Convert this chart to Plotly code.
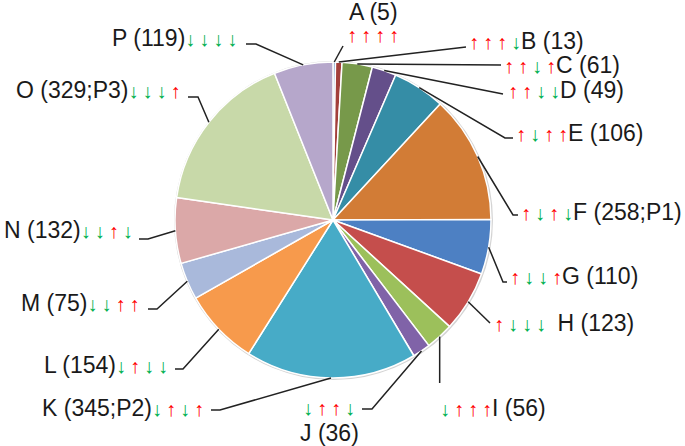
import math
import plotly.graph_objects as go

W, H = 685, 446

names = ["A", "B", "C", "D", "E", "F", "G", "H", "I", "J", "K", "L", "M", "N", "O", "P"]
counts = [5, 13, 61, 49, 106, 258, 110, 123, 56, 36, 345, 154, 75, 132, 329, 119]
ranks = ["", "", "", "", "", "P1", "", "", "", "", "P2", "", "", "", "P3", ""]
trends = ["UUUU", "UUUD", "UUDU", "UUDD", "UDUU", "UDUD", "UDDU", "UDDD",
          "DUUU", "DUUD", "DUDU", "DUDD", "DDUU", "DDUD", "DDDU", "DDDD"]
colors = ["#4F81BD", "#A33F3B", "#77994A", "#644F8A", "#358DA6", "#D27C36",
          "#4D80C3", "#C54E4C", "#9CC05B", "#8063A8", "#47ABC7", "#F79A4C",
          "#A9B9DB", "#DBA8A8", "#C8D9A9", "#B6A7CB"]

# pie geometry (pixels)
cx, cy, r = 333, 220, 158


def px(x):
    return x / W


def py(y):
    return 1 - y / H


def arrows(code):
    parts = []
    for c in code:
        if c == "U":
            parts.append('<span style="color:#FF0000">↑</span>')
        else:
            parts.append('<span style="color:#00B050">↓</span>')
    return '<span style="font-size:20px">' + "\u2009".join(parts) + "</span>"


def label(i):
    if ranks[i]:
        return f"{names[i]} ({counts[i]};{ranks[i]})"
    return f"{names[i]} ({counts[i]})"


# label placement: (x, y, xanchor, arrows first?), leader elbow points
place = {
    0: (373, 12, "center", None), 1: (467, 41, "left", True), 2: (502, 65, "left", True),
    3: (506, 90, "left", True), 4: (514, 133, "left", True), 5: (519, 212, "left", True),
    6: (508, 276, "left", True), 7: (492, 323, "left", True), 8: (438, 408, "left", True),
    9: (329, 433, "center", None), 10: (206, 408, "right", False), 11: (170, 365, "right", False),
    12: (142, 303, "right", False), 13: (135, 230, "right", False), 14: (183, 90, "right", False),
    15: (239, 38, "right", False),
}
elbows = {
    0: [(343, 46)], 1: [(466, 47)], 2: [(501, 65)], 3: [(503, 94)],
    4: [(505, 138), (513, 138)], 5: [(513, 215), (518, 215)], 6: [(503, 282), (507, 282)],
    7: [(490, 323)], 8: [(None, 383)], 9: [(372, 409), (362, 409)],
    10: [(220, 410), (211, 410)], 11: [(183, 369), (175, 369)], 12: [(157, 309), (148, 309)],
    13: [(148, 239), (139, 239)], 14: [(198, 97), (188, 97)], 15: [(256, 44), (246, 44)],
}

fig = go.Figure()
# soft grey rim behind the pie (shadow)
fig.add_trace(go.Pie(
    values=[1], sort=False, textinfo="none", hoverinfo="skip", showlegend=False,
    marker=dict(colors=["#D4D4D4"], line=dict(width=0)),
    domain=dict(x=[px(cx - r - 1), px(cx + r + 2)], y=[py(cy + r + 2), py(cy - r - 1)]),
))
fig.add_trace(go.Pie(
    values=counts, labels=names, sort=False, direction="clockwise", rotation=0,
    marker=dict(colors=colors, line=dict(color="white", width=1.5)),
    textinfo="none", hoverinfo="label+value", showlegend=False,
    domain=dict(x=[px(cx - r), px(cx + r)], y=[py(cy + r), py(cy - r)]),
))

total = sum(counts)
cum = 0
annotations = []
shapes = []
for i, v in enumerate(counts):
    mid = (cum + v / 2) / total * 2 * math.pi
    cum += v
    ax, ay = cx + r * math.sin(mid), cy - r * math.cos(mid)
    pts = [(ax, ay)] + [(ax if x is None else x, y) for x, y in elbows[i]]
    path = "M " + " L ".join(f"{px(x):.5f},{py(y):.5f}" for x, y in pts)
    shapes.append(dict(type="path", path=path, xref="paper", yref="paper",
                       line=dict(color="#222222", width=1.5)))
    x, y, anc, arrows_first = place[i]
    if arrows_first is None:
        # label text and arrows on separate rows
        annotations.append(dict(x=px(x), y=py(y), text=label(i), xanchor="center"))
        dy = 23 if i == 0 else -25
        annotations.append(dict(x=px(x), y=py(y + dy), text=arrows(trends[i]), xanchor="center"))
    elif arrows_first:
        gap = "\u2002" if i == 7 else ""
        annotations.append(dict(x=px(x), y=py(y), text=arrows(trends[i]) + gap + label(i), xanchor=anc))
    else:
        annotations.append(dict(x=px(x), y=py(y), text=label(i) + arrows(trends[i]), xanchor=anc))

for a in annotations:
    a.update(xref="paper", yref="paper", showarrow=False, yanchor="middle")

fig.update_layout(
    width=W, height=H, margin=dict(l=0, r=0, t=0, b=0),
    paper_bgcolor="white", plot_bgcolor="white",
    font=dict(family="Liberation Sans, Arial, sans-serif", size=23, color="#1a1a1a"),
    annotations=annotations, shapes=shapes,
)

# drop the page's default body margin so the figure fills the window
fig.write_html("out.html", config={"displayModeBar": False},
               post_script="document.body.style.margin='0';")
